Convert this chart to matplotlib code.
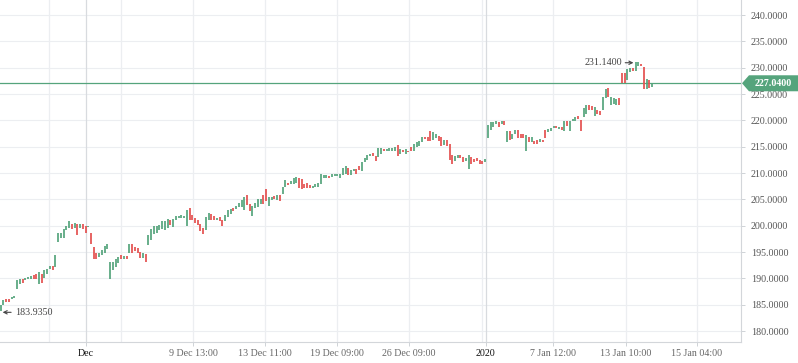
import matplotlib.pyplot as plt
from matplotlib.patches import Polygon

# candle open / close values
opens = [
    183.8, 184.9, 186.0, 186.1, 186.0, 186.2, 188.0, 188.9, 189.9, 189.6,
    189.8, 189.9, 190.6, 190.8, 189.0, 190.8, 190.0, 190.8, 191.7, 192.3,
    192.1, 197.0, 197.6, 197.6, 199.1, 199.5, 200.3, 199.6, 200.4, 199.5,
    200.3, 200.0, 199.8, 198.6, 196.0, 194.9, 194.0, 194.4, 194.8, 195.6,
    189.8, 191.5, 192.2, 193.0, 194.4, 193.6, 194.3, 194.9, 196.5, 196.0,
    195.7, 195.1, 193.8, 194.7, 196.3, 197.3, 198.5, 198.7, 199.2, 199.3,
    199.2, 199.5, 201.0, 199.8, 201.0, 201.4, 201.4, 201.4, 200.0, 203.4,
    202.0, 201.4, 201.1, 200.4, 199.6, 199.2, 201.1, 202.2, 201.8, 201.1,
    201.7, 201.1, 200.8, 201.7, 202.2, 203.3, 203.1, 203.5, 203.6, 203.0,
    205.8, 204.2, 201.9, 203.3, 203.6, 204.1, 205.9, 207.0, 203.8, 204.9,
    205.7, 204.9, 205.8, 206.0, 207.4, 208.2, 207.9, 208.0, 208.2, 209.0,
    208.8, 208.0, 208.2, 207.7, 207.1, 207.3, 207.4, 207.9, 209.0, 209.0,
    209.5, 209.2, 209.4, 209.4, 209.1, 209.6, 209.9, 211.0, 209.6, 210.4,
    210.8, 211.4, 210.4, 212.0, 212.4, 213.2, 213.8, 213.3, 213.1, 213.7,
    214.6, 214.1, 214.2, 214.2, 214.2, 215.3, 213.7, 214.4, 213.6, 214.2,
    215.0, 214.2, 215.0, 215.1, 215.8, 216.9, 216.8, 218.0, 216.3, 216.6,
    217.0, 216.9, 215.4, 216.3, 215.6, 213.4, 212.3, 212.9, 213.4, 213.1,
    212.3, 210.7, 213.1, 212.7, 212.9, 212.5, 212.3, 212.0, 216.6, 218.2,
    218.7, 219.4, 219.7, 219.3, 219.9, 215.9, 218.0, 216.4, 217.5, 218.2,
    217.5, 217.4, 214.1, 216.9, 215.8, 216.1, 216.3, 215.8, 216.3, 218.2,
    217.7, 217.9, 218.6, 218.9, 218.3, 218.8, 218.0, 219.9, 217.9, 219.8,
    219.9, 220.8, 220.1, 220.7, 221.3, 222.9, 222.8, 220.8, 222.0, 221.8,
    222.0, 224.2, 226.1, 222.9, 223.2, 222.9, 224.3, 228.9, 228.9, 227.7,
    229.2, 229.9, 229.4, 230.3, 230.7, 230.2, 225.9, 227.7, 226.4,
]
closes = [
    184.9, 185.9, 185.5, 185.5, 186.5, 186.7, 189.7, 189.9, 189.2, 190.0,
    190.3, 190.5, 189.9, 189.8, 191.3, 189.2, 191.5, 191.7, 192.3, 191.6,
    194.4, 198.7, 198.7, 199.3, 199.9, 200.9, 199.4, 200.5, 198.3, 200.3,
    199.4, 198.7, 200.0, 196.5, 193.7, 193.6, 194.9, 195.3, 196.1, 196.5,
    193.2, 193.2, 193.7, 194.1, 193.6, 194.3, 193.6, 196.5, 194.9, 195.2,
    194.9, 193.8, 194.9, 193.2, 198.2, 199.4, 199.9, 199.9, 200.1, 200.8,
    200.9, 201.2, 200.1, 201.2, 201.8, 201.9, 202.0, 201.8, 203.0, 201.1,
    201.1, 200.6, 200.1, 198.9, 198.5, 201.7, 202.5, 201.1, 201.1, 201.5,
    200.9, 199.9, 202.0, 203.0, 203.1, 202.7, 203.7, 204.4, 204.9, 205.5,
    203.9, 202.8, 203.8, 204.4, 205.0, 205.0, 204.1, 204.7, 205.5, 205.5,
    205.1, 205.8, 204.7, 207.4, 208.7, 207.7, 208.5, 209.1, 209.2, 207.1,
    206.9, 207.1, 207.1, 207.2, 207.6, 207.9, 208.2, 209.8, 209.6, 209.6,
    209.1, 209.8, 209.9, 209.9, 209.8, 210.9, 211.4, 209.6, 210.6, 210.8,
    209.8, 210.6, 212.0, 212.9, 213.4, 213.7, 213.2, 212.3, 214.8, 214.7,
    214.1, 214.5, 214.7, 214.8, 214.9, 213.2, 214.5, 213.9, 214.5, 214.0,
    214.2, 215.6, 215.9, 216.1, 216.9, 216.5, 216.1, 216.1, 217.7, 217.4,
    216.1, 215.2, 216.3, 215.1, 212.5, 211.7, 213.3, 213.4, 212.8, 212.1,
    212.9, 213.5, 211.8, 212.0, 212.3, 211.8, 211.7, 212.7, 219.1, 219.7,
    219.7, 219.9, 218.8, 219.9, 219.2, 218.0, 216.3, 217.5, 218.2, 216.6,
    216.6, 216.6, 217.3, 215.8, 216.9, 215.6, 215.6, 216.4, 215.8, 216.7,
    218.4, 218.6, 219.0, 218.6, 218.8, 218.2, 219.9, 219.0, 219.8, 220.2,
    220.7, 220.3, 217.9, 222.4, 222.9, 222.0, 222.0, 222.6, 221.3, 221.0,
    224.5, 225.9, 224.4, 224.5, 224.3, 224.0, 222.9, 227.0, 227.1, 229.7,
    229.9, 229.4, 231.1, 231.1, 230.3, 225.9, 227.8, 226.1, 227.04,
]

high_val = 231.14
low_val = 183.935

tick_pos = [31.0, 70.4, 96.6, 122.9, 149.2, 177.3, 201.8, 228.3, 254.4]
tick_labels = ["Dec", "9 Dec 13:00", "13 Dec 11:00", "19 Dec 09:00", "26 Dec 09:00",
               "2020", "7 Jan 12:00", "13 Jan 10:00", "15 Jan 04:00"]
extra_grid = [17.6, 44.0, 175.9]
y_ticks = [180, 185, 190, 195, 200, 205, 210, 215, 220, 225, 230, 235, 240]

green = "#55a47c"
red = "#e4504f"
grid_c = "#eceef1"
txt_c = "#444444"

plt.rcParams["font.family"] = ["Liberation Serif", "DejaVu Sans"]

fig = plt.figure(figsize=(7.98, 3.63), dpi=100)
ax = fig.add_axes([0, 21 / 363, 741 / 798, 342 / 363])

idx = list(range(len(opens)))
colors = [green if c >= o else red for o, c in zip(opens, closes)]
ax.vlines(idx, opens, closes, colors=colors, linewidth=1.25, zorder=3)

ax.set_xlim(-0.26, 270.5)
ax.set_ylim(177.92, 242.85)

# grid
for y in y_ticks:
    ax.axhline(y, color=grid_c, lw=0.8, zorder=0)
for x in tick_pos + extra_grid:
    c = "#d8dbdf" if x in (31.0, 177.3) else grid_c
    ax.axvline(x, color=c, lw=0.9, zorder=0)

ax.set_xticks(tick_pos)
ax.set_xticklabels(tick_labels)
ax.set_yticks(y_ticks)
ax.set_yticklabels([f"{v:.4f}" for v in y_ticks])
ax.yaxis.tick_right()
ax.tick_params(axis="y", length=3, width=0.7, color="#cfd3d7", pad=4,
               labelsize=7.2, labelcolor="#555555")
ax.tick_params(axis="x", length=3, width=0.7, color="#cfd3d7", pad=2,
               labelsize=7.2, labelcolor="#666666")
for lab in ax.get_xticklabels():
    if lab.get_text() in ("Dec", "2020"):
        lab.set_color("#111111")

for s in ["top", "left"]:
    ax.spines[s].set_visible(False)
for s in ["right", "bottom"]:
    ax.spines[s].set_color("#d3d6da")
    ax.spines[s].set_linewidth(0.8)

# last price line and label
last = closes[-1]
ax.axhline(last, color=green, lw=0.9, zorder=2)
fig.canvas.draw()
_, yd = ax.transData.transform((0, last))
x0 = ax.transAxes.transform((1, 0))[0]
h = 8
pts = [(x0 + 1, yd), (x0 + 8, yd + h), (798, yd + h), (798, yd - h), (x0 + 8, yd - h)]
fig.patches.append(Polygon(pts, closed=True, transform=None, facecolor=green,
                           edgecolor="none", zorder=5))
fig.text((x0 + 8 + 798) / 2 / 798, yd / 363, f"{last:.4f}", color="white",
         fontsize=7.2, fontweight="bold", ha="center", va="center", zorder=6)

# high / low marks
arrow = dict(arrowstyle="->", color=txt_c, lw=0.8, mutation_scale=6,
             shrinkA=0, shrinkB=0)
hi_i = max(idx, key=lambda i: max(opens[i], closes[i]))
hy = high_val - 0.2
ax.annotate("", xy=(hi_i - 0.8, hy), xytext=(hi_i - 3.8, hy), arrowprops=arrow)
ax.text(hi_i - 4.8, hy, f"{high_val:.4f}", ha="right", va="center",
        fontsize=7.2, color=txt_c)
lo_i = min(idx, key=lambda i: min(opens[i], closes[i]))
ly = low_val - 0.38
ax.annotate("", xy=(lo_i + 0.7, ly), xytext=(lo_i + 3.8, ly), arrowprops=arrow)
ax.text(lo_i + 5.2, ly, f"{low_val:.4f}", ha="left", va="center",
        fontsize=7.2, color=txt_c)

fig.savefig("out.png", dpi=100)
